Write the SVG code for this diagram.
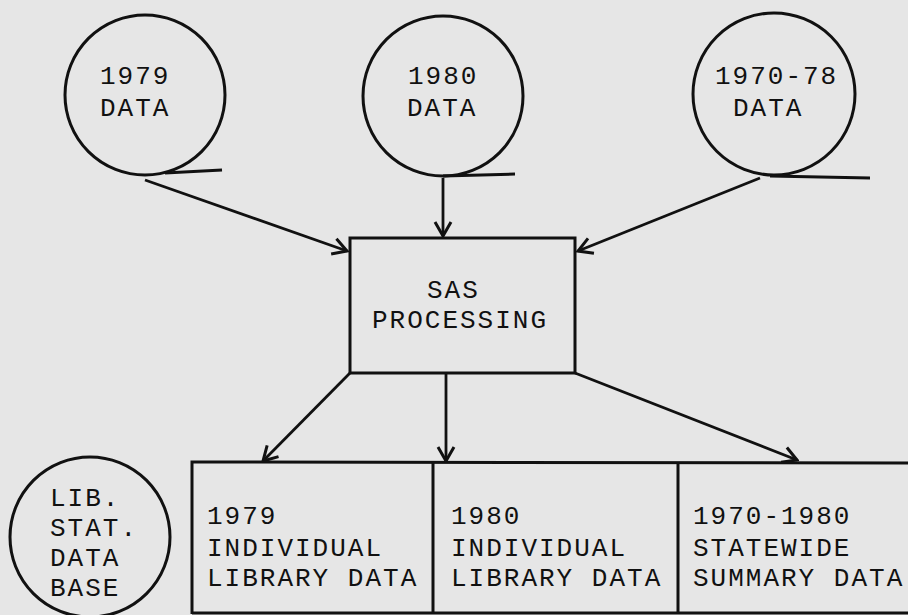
<svg xmlns="http://www.w3.org/2000/svg" width="908" height="615" viewBox="0 0 908 615">
<defs>
<style>
.bg{fill:#e6e6e6}
.shape{fill:none;stroke:#111;stroke-width:3}
.conn{fill:none;stroke:#111;stroke-width:2.8}
.t{font-family:"Liberation Mono","DejaVu Sans Mono",monospace;font-size:26px;letter-spacing:2px;fill:#111}
</style>
<marker id="arr" viewBox="0 0 20 20" refX="18" refY="10" markerWidth="20" markerHeight="20" markerUnits="userSpaceOnUse" orient="auto">
<polyline points="4,2 18,10 4,18" fill="none" stroke="#111" stroke-width="3"/>
</marker>
</defs>
<rect class="bg" x="0" y="0" width="908" height="615"/>
<g id="connectors">
<line class="conn" x1="145" y1="180" x2="347" y2="251" marker-end="url(#arr)"/>
<line class="conn" x1="443" y1="178" x2="443" y2="236" marker-end="url(#arr)"/>
<line class="conn" x1="760" y1="178" x2="578" y2="251" marker-end="url(#arr)"/>
<line class="conn" x1="350" y1="373" x2="263" y2="461" marker-end="url(#arr)"/>
<line class="conn" x1="446" y1="373" x2="446" y2="461" marker-end="url(#arr)"/>
<line class="conn" x1="575" y1="373" x2="797" y2="460" marker-end="url(#arr)"/>
</g>
<g id="data1979">
<circle class="shape" cx="145" cy="95" r="80"/>
<line class="shape" x1="165" y1="173" x2="222" y2="170"/>
<text class="t" x="100" y="84">1979</text>
<text class="t" x="100" y="116">DATA</text>
</g>
<g id="data1980">
<circle class="shape" cx="443" cy="96" r="80"/>
<line class="shape" x1="443" y1="176" x2="515" y2="174"/>
<text class="t" x="408" y="84">1980</text>
<text class="t" x="407" y="116">DATA</text>
</g>
<g id="data1970-78">
<circle class="shape" cx="774" cy="94" r="81"/>
<line class="shape" x1="770" y1="176" x2="870" y2="178"/>
<text class="t" x="715" y="84">1970-78</text>
<text class="t" x="733" y="116">DATA</text>
</g>
<g id="sas">
<rect class="shape" x="350" y="238" width="225" height="135"/>
<text class="t" x="427" y="298">SAS</text>
<text class="t" x="372" y="328">PROCESSING</text>
</g>
<g id="libstat">
<circle class="shape" cx="90" cy="537" r="80"/>
<text class="t" x="50" y="506">LIB.</text>
<text class="t" x="50" y="536">STAT.</text>
<text class="t" x="50" y="566">DATA</text>
<text class="t" x="50" y="596">BASE</text>
</g>
<g id="outputs">
<polyline class="shape" points="192,614 192,462 908,463"/>
<line class="shape" x1="192" y1="613" x2="908" y2="613"/>
<line class="shape" x1="433" y1="462" x2="433" y2="613"/>
<line class="shape" x1="678" y1="463" x2="678" y2="613"/>
</g>
<g id="ind1979">
<text class="t" x="207" y="524">1979</text>
<text class="t" x="207" y="556">INDIVIDUAL</text>
<text class="t" x="207" y="586">LIBRARY DATA</text>
</g>
<g id="ind1980">
<text class="t" x="451" y="524">1980</text>
<text class="t" x="451" y="556">INDIVIDUAL</text>
<text class="t" x="451" y="586">LIBRARY DATA</text>
</g>
<g id="statewide">
<text class="t" x="693" y="524">1970-1980</text>
<text class="t" x="693" y="556">STATEWIDE</text>
<text class="t" x="693" y="586">SUMMARY DATA</text>
</g>
</svg>
